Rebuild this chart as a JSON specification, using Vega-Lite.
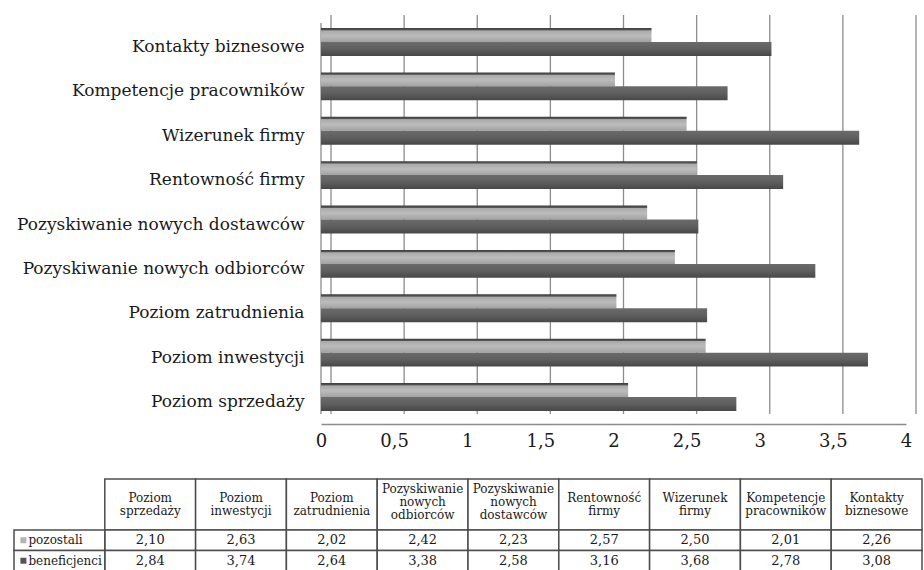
{
  "$schema": "https://vega.github.io/schema/vega-lite/v6.json",
  "padding": {"left": 13, "top": 14, "right": 3, "bottom": 0},
  "autosize": {"type": "pad"},
  "background": "white",
  "bounds": "flush",
  "spacing": 65,
  "config": {
    "font": "DejaVu Serif",
    "text": {"font": "DejaVu Serif"},
    "view": {"stroke": null},
    "locale": {"number": {"decimal": ",", "thousands": " ", "grouping": [3], "currency": ["", " zł"]}}
  },
  "datasets": {
    "wyniki": [
      {"kategoria": "Poziom sprzedaży", "seria": "pozostali", "wartosc": 2.10},
      {"kategoria": "Poziom inwestycji", "seria": "pozostali", "wartosc": 2.63},
      {"kategoria": "Poziom zatrudnienia", "seria": "pozostali", "wartosc": 2.02},
      {"kategoria": "Pozyskiwanie nowych odbiorców", "seria": "pozostali", "wartosc": 2.42},
      {"kategoria": "Pozyskiwanie nowych dostawców", "seria": "pozostali", "wartosc": 2.23},
      {"kategoria": "Rentowność firmy", "seria": "pozostali", "wartosc": 2.57},
      {"kategoria": "Wizerunek firmy", "seria": "pozostali", "wartosc": 2.50},
      {"kategoria": "Kompetencje pracowników", "seria": "pozostali", "wartosc": 2.01},
      {"kategoria": "Kontakty biznesowe", "seria": "pozostali", "wartosc": 2.26},
      {"kategoria": "Poziom sprzedaży", "seria": "beneficjenci", "wartosc": 2.84},
      {"kategoria": "Poziom inwestycji", "seria": "beneficjenci", "wartosc": 3.74},
      {"kategoria": "Poziom zatrudnienia", "seria": "beneficjenci", "wartosc": 2.64},
      {"kategoria": "Pozyskiwanie nowych odbiorców", "seria": "beneficjenci", "wartosc": 3.38},
      {"kategoria": "Pozyskiwanie nowych dostawców", "seria": "beneficjenci", "wartosc": 2.58},
      {"kategoria": "Rentowność firmy", "seria": "beneficjenci", "wartosc": 3.16},
      {"kategoria": "Wizerunek firmy", "seria": "beneficjenci", "wartosc": 3.68},
      {"kategoria": "Kompetencje pracowników", "seria": "beneficjenci", "wartosc": 2.78},
      {"kategoria": "Kontakty biznesowe", "seria": "beneficjenci", "wartosc": 3.08}
    ],
    "kategorie": [
      {"kategoria": "Poziom sprzedaży", "wiersz": "nagłówek"},
      {"kategoria": "Poziom inwestycji", "wiersz": "nagłówek"},
      {"kategoria": "Poziom zatrudnienia", "wiersz": "nagłówek"},
      {"kategoria": "Pozyskiwanie nowych odbiorców", "wiersz": "nagłówek"},
      {"kategoria": "Pozyskiwanie nowych dostawców", "wiersz": "nagłówek"},
      {"kategoria": "Rentowność firmy", "wiersz": "nagłówek"},
      {"kategoria": "Wizerunek firmy", "wiersz": "nagłówek"},
      {"kategoria": "Kompetencje pracowników", "wiersz": "nagłówek"},
      {"kategoria": "Kontakty biznesowe", "wiersz": "nagłówek"}
    ],
    "serie": [
      {"seria": "pozostali"},
      {"seria": "beneficjenci"}
    ],
    "podzialka": [
      {"v": 0}, {"v": 0.5}, {"v": 1}, {"v": 1.5}, {"v": 2}, {"v": 2.5}, {"v": 3}, {"v": 3.5}, {"v": 4}
    ]
  },
  "vconcat": [
    {
      "width": 908,
      "height": 399,
      "layer": [
        {
          "data": {"name": "podzialka"},
          "mark": {"type": "rule", "xOffset": 10, "color": "#8c8c8c", "strokeWidth": 1.3},
          "encoding": {
            "x": {"field": "v", "type": "quantitative",
              "scale": {"domain": [0, 4], "range": [307, 892], "nice": false, "zero": true},
              "axis": {"title": null, "values": [0, 0.5, 1, 1.5, 2, 2.5, 3, 3.5, 4], "format": "~g", "labelExpr": "replace(datum.label, '.', ',')", "offset": 10, "domainColor": "#8c8c8c", "domainWidth": 1.5, "ticks": false, "grid": false, "labelPadding": 8, "labelFontSize": 18, "labelColor": "#1a1a1a", "labelFlush": false, "labelFont": "DejaVu Serif"}}
          }
        },
        {
          "data": {"name": "podzialka"},
          "transform": [{"filter": "datum.v === 0"}],
          "mark": {"type": "rule", "yOffset": 8, "y2Offset": 8, "color": "#8c8c8c", "strokeWidth": 1.3},
          "encoding": {
            "x": {"field": "v", "type": "quantitative",
              "scale": {"domain": [0, 4], "range": [307, 892], "nice": false, "zero": true},
              "axis": {"title": null, "values": [0, 0.5, 1, 1.5, 2, 2.5, 3, 3.5, 4], "format": "~g", "labelExpr": "replace(datum.label, '.', ',')", "offset": 10, "domainColor": "#8c8c8c", "domainWidth": 1.5, "ticks": false, "grid": false, "labelPadding": 8, "labelFontSize": 18, "labelColor": "#1a1a1a", "labelFlush": false, "labelFont": "DejaVu Serif"}}
          }
        },
        {
          "data": {"name": "wyniki"},
          "transform": [{"filter": "datum.seria === 'pozostali'"}],
          "mark": {"type": "bar", "color": {"gradient": "linear", "x1": 0, "y1": 0, "x2": 0, "y2": 1, "stops": [{"offset": 0, "color": "#3c3c3c"}, {"offset": 0.14, "color": "#555555"}, {"offset": 0.2, "color": "#aaaaaa"}, {"offset": 0.55, "color": "#bcbcbc"}, {"offset": 1, "color": "#a2a2a2"}]}},
          "encoding": {
            "x": {"field": "wartosc", "type": "quantitative",
              "scale": {"domain": [0, 4], "range": [307, 892], "nice": false, "zero": true},
              "axis": {"title": null, "values": [0, 0.5, 1, 1.5, 2, 2.5, 3, 3.5, 4], "format": "~g", "labelExpr": "replace(datum.label, '.', ',')", "offset": 10, "domainColor": "#8c8c8c", "domainWidth": 1.5, "ticks": false, "grid": false, "labelPadding": 8, "labelFontSize": 18, "labelColor": "#1a1a1a", "labelFlush": false, "labelFont": "DejaVu Serif"}},
            "y": {"field": "kategoria", "type": "nominal",
              "scale": {"domain": ["Kontakty biznesowe", "Kompetencje pracowników", "Wizerunek firmy", "Rentowność firmy", "Pozyskiwanie nowych dostawców", "Pozyskiwanie nowych odbiorców", "Poziom zatrudnienia", "Poziom inwestycji", "Poziom sprzedaży"], "range": [4.8, 404.2], "paddingInner": 0.37, "paddingOuter": 0.185},
              "axis": {"title": null, "offset": -307, "domain": false, "ticks": false, "grid": false, "labelPadding": 17, "labelFontSize": 17, "labelColor": "#1a1a1a", "labelLimit": 400, "labelOffset": 5, "labelFont": "DejaVu Serif"}},
            "yOffset": {"field": "seria", "type": "nominal", "scale": {"domain": ["pozostali", "beneficjenci"], "paddingInner": 0, "paddingOuter": 0}}
          }
        },
        {
          "data": {"name": "wyniki"},
          "transform": [{"filter": "datum.seria === 'beneficjenci'"}],
          "mark": {"type": "bar", "color": {"gradient": "linear", "x1": 0, "y1": 0, "x2": 0, "y2": 1, "stops": [{"offset": 0, "color": "#6b6b6b"}, {"offset": 0.5, "color": "#5f5f5f"}, {"offset": 1, "color": "#474747"}]}},
          "encoding": {
            "x": {"field": "wartosc", "type": "quantitative",
              "scale": {"domain": [0, 4], "range": [307, 892], "nice": false, "zero": true},
              "axis": {"title": null, "values": [0, 0.5, 1, 1.5, 2, 2.5, 3, 3.5, 4], "format": "~g", "labelExpr": "replace(datum.label, '.', ',')", "offset": 10, "domainColor": "#8c8c8c", "domainWidth": 1.5, "ticks": false, "grid": false, "labelPadding": 8, "labelFontSize": 18, "labelColor": "#1a1a1a", "labelFlush": false, "labelFont": "DejaVu Serif"}},
            "y": {"field": "kategoria", "type": "nominal",
              "scale": {"domain": ["Kontakty biznesowe", "Kompetencje pracowników", "Wizerunek firmy", "Rentowność firmy", "Pozyskiwanie nowych dostawców", "Pozyskiwanie nowych odbiorców", "Poziom zatrudnienia", "Poziom inwestycji", "Poziom sprzedaży"], "range": [4.8, 404.2], "paddingInner": 0.37, "paddingOuter": 0.185},
              "axis": {"title": null, "offset": -307, "domain": false, "ticks": false, "grid": false, "labelPadding": 17, "labelFontSize": 17, "labelColor": "#1a1a1a", "labelLimit": 400, "labelOffset": 5, "labelFont": "DejaVu Serif"}},
            "yOffset": {"field": "seria", "type": "nominal", "scale": {"domain": ["pozostali", "beneficjenci"], "paddingInner": 0, "paddingOuter": 0}}
          }
        }
      ]
    },
    {
      "width": 908,
      "height": 92,
      "resolve": {"scale": {"y": "independent"}},
      "layer": [
        {
          "data": {"name": "kategorie"},
          "encoding": {
            "x": {"field": "kategoria", "type": "nominal", "axis": null,
              "scale": {"domain": ["Seria", "Poziom sprzedaży", "Poziom inwestycji", "Poziom zatrudnienia", "Pozyskiwanie nowych odbiorców", "Pozyskiwanie nowych dostawców", "Rentowność firmy", "Wizerunek firmy", "Kompetencje pracowników", "Kontakty biznesowe"], "paddingInner": 0, "paddingOuter": 0}},
            "y": {"field": "wiersz", "type": "nominal", "axis": null,
              "scale": {"domain": ["nagłówek"], "range": [0, 51], "paddingInner": 0, "paddingOuter": 0}}
          },
          "layer": [
            {"mark": {"type": "rect", "fill": "white", "stroke": "#4d4d4d", "strokeWidth": 1.5}},
            {"transform": [{"filter": "indexof(datum.kategoria, 'Pozyskiwanie') < 0"}],
             "mark": {"type": "text", "lineBreak": " ", "fontSize": 12, "lineHeight": 13, "dy": -7, "color": "#1a1a1a", "baseline": "middle", "font": "DejaVu Serif"},
             "encoding": {"text": {"field": "kategoria"}}},
            {"transform": [{"filter": "indexof(datum.kategoria, 'Pozyskiwanie') >= 0"}],
             "mark": {"type": "text", "lineBreak": " ", "fontSize": 12, "lineHeight": 13, "dy": -16, "color": "#1a1a1a", "baseline": "middle", "font": "DejaVu Serif"},
             "encoding": {"text": {"field": "kategoria"}}}
          ]
        },
        {
          "layer": [
            {
              "data": {"name": "wyniki"},
              "encoding": {
                "x": {"field": "kategoria", "type": "nominal", "axis": null,
                  "scale": {"domain": ["Seria", "Poziom sprzedaży", "Poziom inwestycji", "Poziom zatrudnienia", "Pozyskiwanie nowych odbiorców", "Pozyskiwanie nowych dostawców", "Rentowność firmy", "Wizerunek firmy", "Kompetencje pracowników", "Kontakty biznesowe"], "paddingInner": 0, "paddingOuter": 0}},
                "y": {"field": "seria", "type": "nominal", "axis": null,
                  "scale": {"domain": ["pozostali", "beneficjenci"], "range": [51, 92], "paddingInner": 0, "paddingOuter": 0}}
              },
              "layer": [
                {"mark": {"type": "rect", "fill": "white", "stroke": "#4d4d4d", "strokeWidth": 1.5}},
                {"mark": {"type": "text", "fontSize": 13, "color": "#1a1a1a", "baseline": "middle", "font": "DejaVu Serif"},
                 "encoding": {"text": {"field": "wartosc", "type": "quantitative", "format": ".2f"}}}
              ]
            },
            {
              "data": {"name": "serie"},
              "encoding": {
                "x": {"datum": "Seria", "type": "nominal", "axis": null,
                  "scale": {"domain": ["Seria", "Poziom sprzedaży", "Poziom inwestycji", "Poziom zatrudnienia", "Pozyskiwanie nowych odbiorców", "Pozyskiwanie nowych dostawców", "Rentowność firmy", "Wizerunek firmy", "Kompetencje pracowników", "Kontakty biznesowe"], "paddingInner": 0, "paddingOuter": 0}},
                "y": {"field": "seria", "type": "nominal", "axis": null,
                  "scale": {"domain": ["pozostali", "beneficjenci"], "range": [51, 92], "paddingInner": 0, "paddingOuter": 0}}
              },
              "layer": [
                {"mark": {"type": "rect", "fill": "white", "stroke": "#4d4d4d", "strokeWidth": 1.5}},
                {"mark": {"type": "square", "size": 36, "opacity": 1, "filled": true, "xOffset": -36},
                 "encoding": {"color": {"field": "seria", "type": "nominal", "legend": null, "scale": {"domain": ["pozostali", "beneficjenci"], "range": ["#b3b3b3", "#555555"]}}}},
                {"mark": {"type": "text", "fontSize": 12, "color": "#1a1a1a", "baseline": "middle", "align": "left", "xOffset": -31, "font": "DejaVu Serif"},
                 "encoding": {"text": {"field": "seria"}}}
              ]
            }
          ]
        }
      ]
    }
  ]
}
